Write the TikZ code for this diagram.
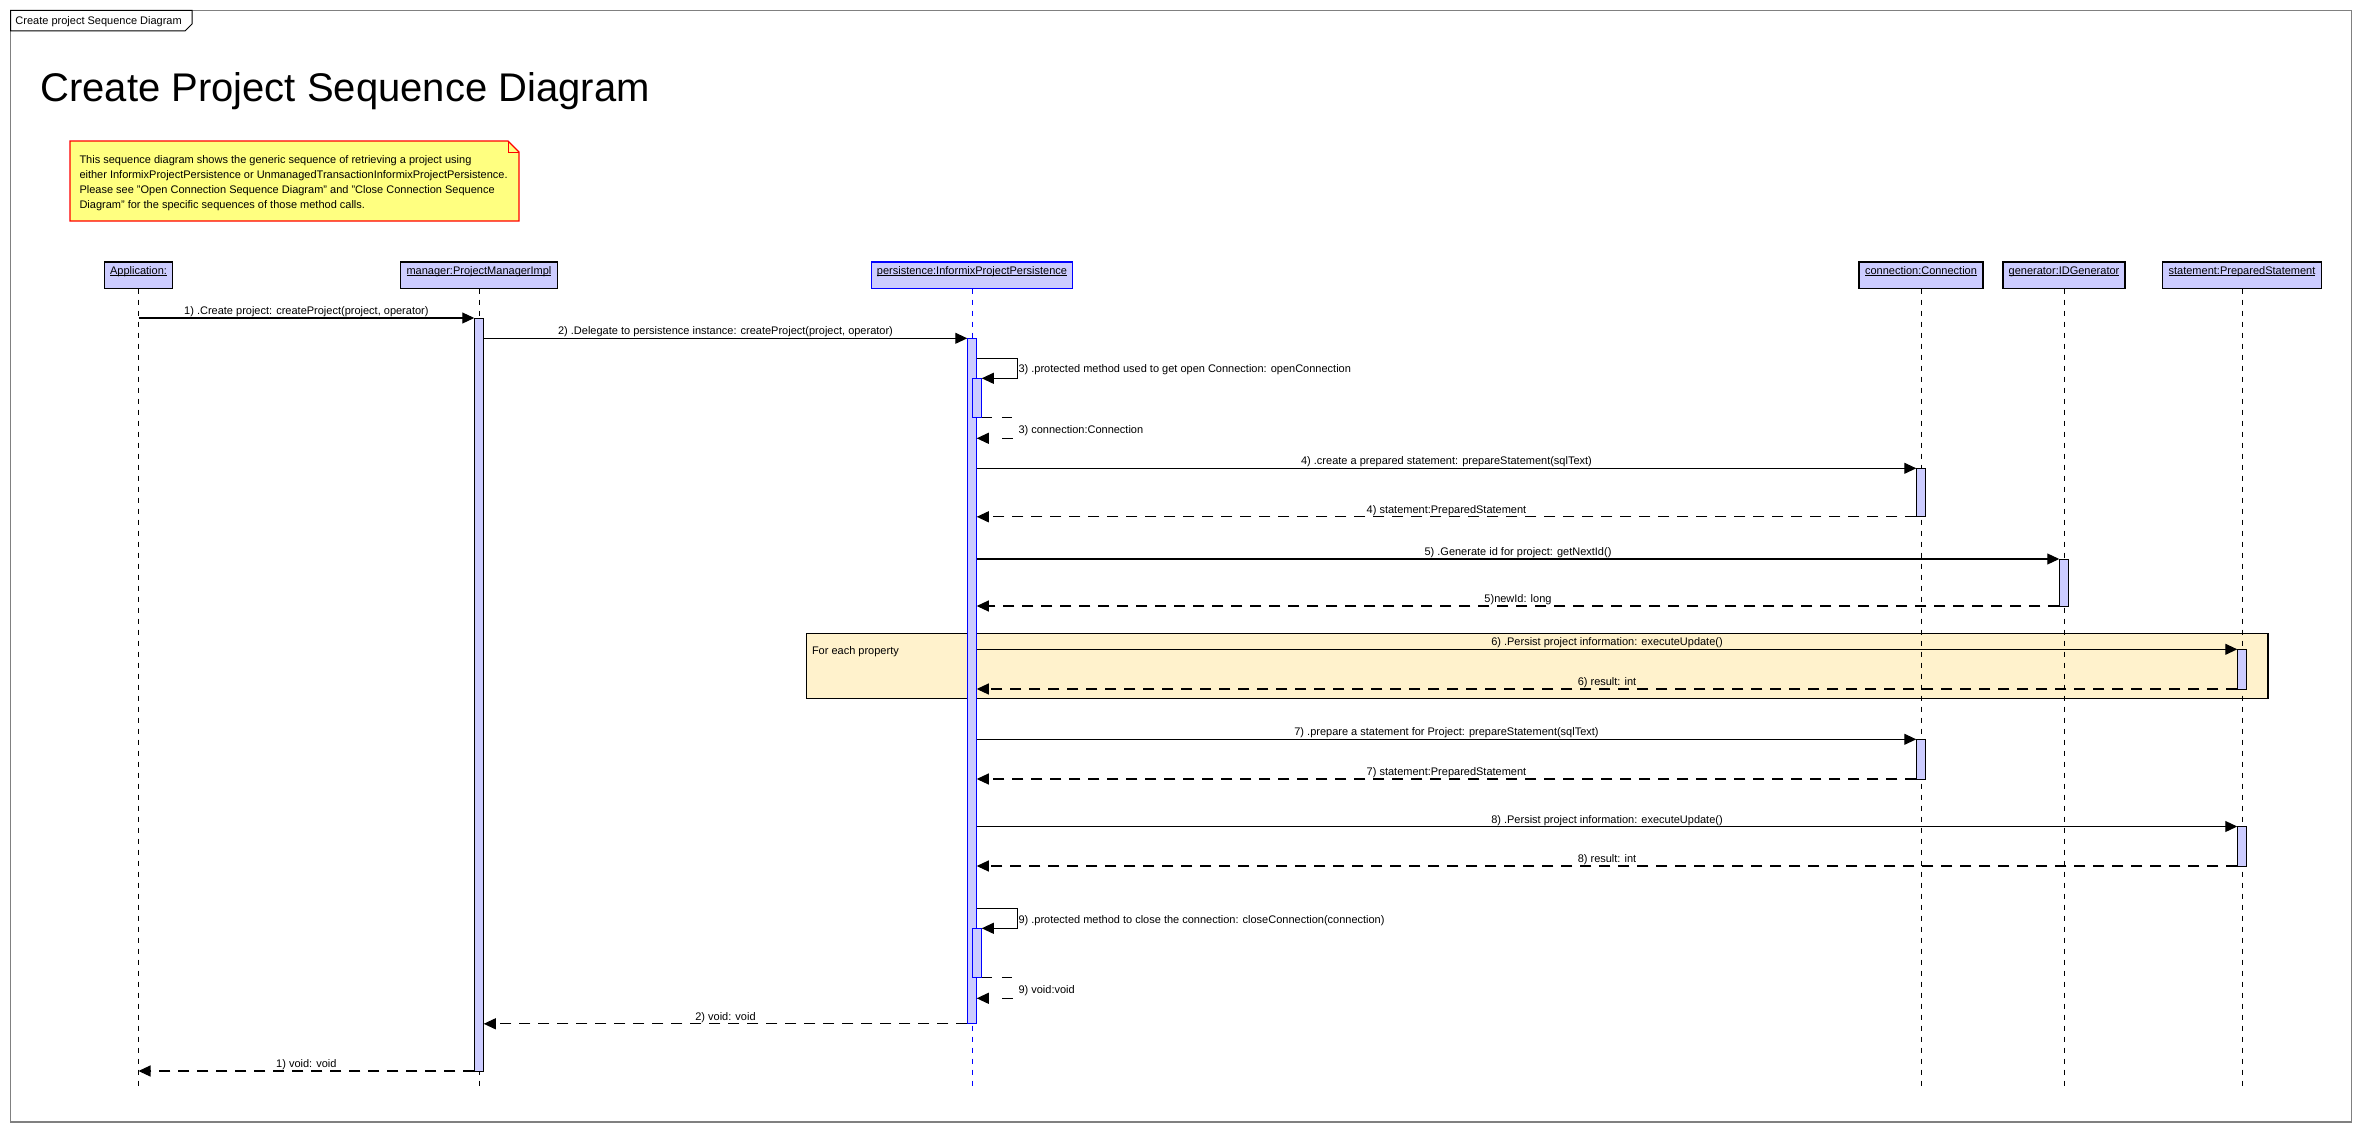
\documentclass[tikz,border=0pt]{standalone}
\usepackage{fontspec}
\setmainfont{Liberation Sans}
\usetikzlibrary{arrows.meta}
\definecolor{lav}{RGB}{204,204,255}
\definecolor{notey}{RGB}{255,255,128}
\definecolor{loopc}{RGB}{255,242,204}
\definecolor{framegray}{RGB}{128,128,128}
\definecolor{perblue}{RGB}{0,0,255}
\newcommand\lname[1]{\underline{\smash{#1}}}
\begin{document}
\begin{tikzpicture}[x=1pt,y=-1pt,
  every node/.style={font=\fontsize{11}{15}\selectfont, inner sep=0pt, outer sep=0pt},
  lifebox/.style={draw=black, line width=1.2pt, fill=lav, minimum height=26.5pt, anchor=north},
  perbox/.style={lifebox, draw=perblue},
  lifeline/.style={line width=1pt, dash pattern=on 5pt off 6pt},
  actbox/.style={draw=black, line width=1pt, fill=lav, minimum width=9.5pt, anchor=north},
  peract/.style={actbox, draw=perblue},
  call/.style={line width=1.1pt, -{Triangle[length=12pt,width=11pt]}},
  ret/.style={call, dash pattern=on 11pt off 8pt},
  selfret/.style={call, dash pattern=on 10pt off 10pt on 10.5pt off 21pt on 10pt off 60pt},
  lbl/.style={midway, anchor=base, yshift=3.5pt},
  slbl/.style={anchor=base west}
]
\useasboundingbox (0,0) rectangle (2362,1132);
\fill[white] (0,0) rectangle (2362,1132);

% outer frame and its tab
\draw[framegray, line width=1.2pt] (10.5,10.5) rectangle (2351.5,1122);
\draw[black, line width=1pt, fill=white] (10.5,10.5) -- (192,10.5) -- (192,24) -- (185,31) -- (10.5,31) -- cycle;
\node[anchor=base west] (tab) at (15.5,25) {Create project Sequence Diagram};

% title
\node[anchor=base west, font=\fontsize{40}{48}\selectfont] (title) at (40.5,101.5) {Create Project Sequence Diagram};

% note
\draw[red, line width=1.2pt, fill=notey] (70,141) -- (508,141) -- (519,152) -- (519,221) -- (70,221) -- cycle;
\draw[red, line width=1pt] (508,141) -- (508,152) -- (519,152);
\node[anchor=base west] (nt1) at (79.5,163.3) {This sequence diagram shows the generic sequence of retrieving a project using};
\node[anchor=base west] (nt2) at (79.5,178.3) {either InformixProjectPersistence or UnmanagedTransactionInformixProjectPersistence.};
\node[anchor=base west] (nt3) at (79.5,193.3) {Please see "Open Connection Sequence Diagram" and "Close Connection Sequence};
\node[anchor=base west] (nt4) at (79.5,208.3) {Diagram" for the specific sequences of those method calls.};

% loop fragment
\node[draw=black, line width=1.2pt, fill=loopc, minimum width=1461.7pt, minimum height=65pt, anchor=north west] (loop) at (806.3,633.3) {};
\node[anchor=base west] (looplbl) at (812,654.5) {For each property};

% lifeline headers
\node[lifebox, minimum width=68.6pt] (app) at (138.5,262) {\lname{Application:}};
\node[lifebox, minimum width=156.6pt] (mgr) at (479,262) {\lname{manager:ProjectManagerImpl}};
\node[perbox, minimum width=200.6pt] (per) at (972,262) {\lname{persistence:InformixProjectPersistence}};
\node[lifebox, minimum width=124pt] (con) at (1921,262) {\lname{connection:Connection}};
\node[lifebox, minimum width=122pt] (gen) at (2064,262) {\lname{generator:IDGenerator}};
\node[lifebox, minimum width=158.5pt] (stm) at (2242,262) {\lname{statement:PreparedStatement}};

% lifeline ends
\coordinate (appE) at (138.5,1086);
\coordinate (mgrE) at (479,1086);
\coordinate (perE) at (972,1086);
\coordinate (conE) at (1921,1086);
\coordinate (genE) at (2064,1086);
\coordinate (stmE) at (2242,1086);
\draw[lifeline] (app.south) -- (appE);
\draw[lifeline] (mgr.south) -- (mgrE);
\draw[lifeline, perblue] (per.south) -- (perE);
\draw[lifeline] (con.south) -- (conE);
\draw[lifeline] (gen.south) -- (genE);
\draw[lifeline] (stm.south) -- (stmE);

% activations
\node[actbox, minimum height=753pt] (actM) at (479,318) {};
\node[peract, minimum height=685.5pt] (actP) at (972,338.3) {};
\node[peract, minimum height=39pt] (actP3) at (977,378.3) {};
\node[peract, minimum height=49pt] (actP9) at (977,928.3) {};
\node[actbox, minimum height=48.5pt] (actC4) at (1921,468.3) {};
\node[actbox, minimum height=47pt] (actG5) at (2064,559) {};
\node[actbox, minimum height=39.7pt] (actS6) at (2242,649.3) {};
\node[actbox, minimum height=39.7pt] (actC7) at (1921,739.3) {};
\node[actbox, minimum height=39.5pt] (actS8) at (2242,826.5) {};

% messages
\draw[call] (app.south |- actM.north west) -- node[lbl] {1) .Create project: createProject(project, operator)} (actM.north west);
\draw[call] (actM.east |- actP.north west) -- node[lbl] {2) .Delegate to persistence instance: createProject(project, operator)} (actP.north west);

\coordinate (c3) at (976.75,358.3);
\draw[call] (c3) -- ++(40.5,0) |- (actP3.north east);
\node[slbl] (l3) at (1018.5,372.3) {3) .protected method used to get open Connection: openConnection};
\coordinate (c3r) at (976.75,438.3);
\draw[selfret] (actP3.south east) -- ++(30.5,0) |- (c3r);
\node[slbl] (l3r) at (1018.5,433) {3) connection:Connection};

\draw[call] (actP.east |- actC4.north west) -- node[lbl] {4) .create a prepared statement: prepareStatement(sqlText)} (actC4.north west);
\draw[ret] (actC4.south west) -- node[lbl] {4) statement:PreparedStatement} (actP.east |- actC4.south west);

\draw[call] (actP.east |- actG5.north west) -- node[lbl] {5) .Generate id for project: getNextId()} (actG5.north west);
\draw[ret] (actG5.south west) -- node[lbl] {5)newId: long} (actP.east |- actG5.south west);

\draw[call] (actP.east |- actS6.north west) -- node[lbl] {6) .Persist project information: executeUpdate()} (actS6.north west);
\draw[ret] (actS6.south west) -- node[lbl] {6) result: int} (actP.east |- actS6.south west);

\draw[call] (actP.east |- actC7.north west) -- node[lbl] {7) .prepare a statement for Project: prepareStatement(sqlText)} (actC7.north west);
\draw[ret] (actC7.south west) -- node[lbl] {7) statement:PreparedStatement} (actP.east |- actC7.south west);

\draw[call] (actP.east |- actS8.north west) -- node[lbl] {8) .Persist project information: executeUpdate()} (actS8.north west);
\draw[ret] (actS8.south west) -- node[lbl] {8) result: int} (actP.east |- actS8.south west);

\coordinate (c9) at (976.75,908.3);
\draw[call] (c9) -- ++(40.5,0) |- (actP9.north east);
\node[slbl] (l9) at (1018.5,923.3) {9) .protected method to close the connection: closeConnection(connection)};
\coordinate (c9r) at (976.75,998.3);
\draw[selfret] (actP9.south east) -- ++(30.5,0) |- (c9r);
\node[slbl] (l9r) at (1018.5,993) {9) void:void};

\draw[ret] (actP.south west) -- node[lbl] {2) void: void} (actM.east |- actP.south west);
\draw[ret] (actM.south west) -- node[lbl] {1) void: void} (app.south |- actM.south west);
\end{tikzpicture}
\end{document}
